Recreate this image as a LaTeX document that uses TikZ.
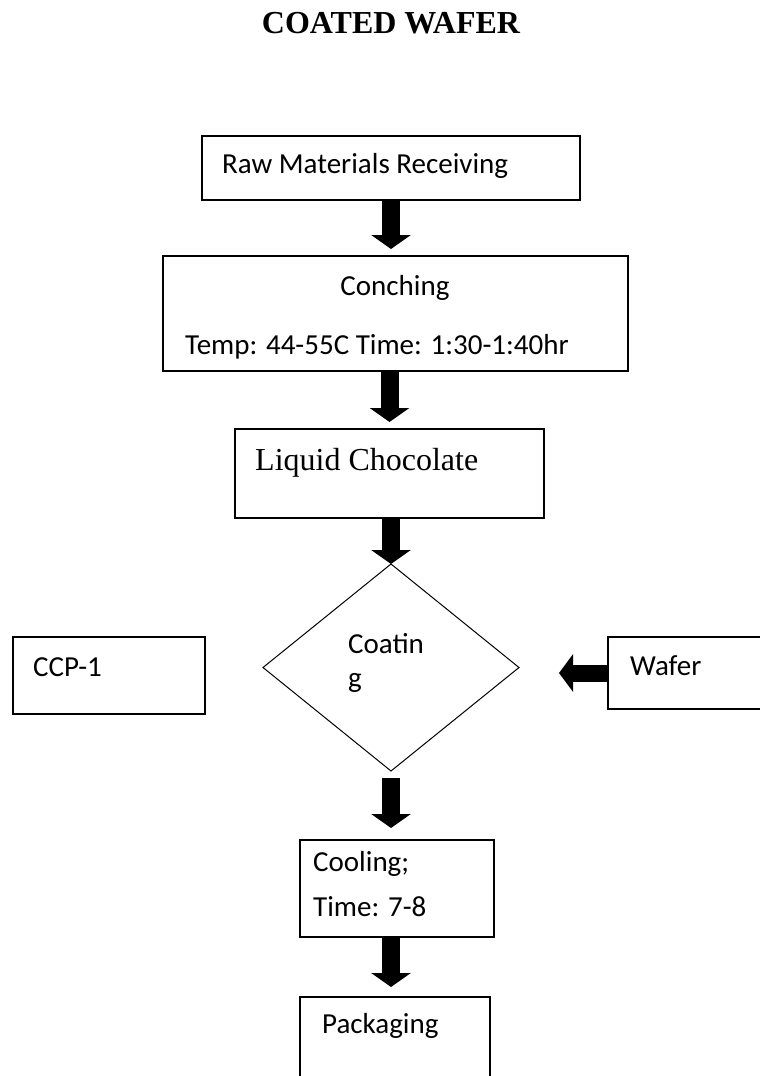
\documentclass[tikz,border=0pt]{standalone}
\usepackage{fontspec}
\setmainfont{Liberation Serif}
\newfontfamily\calibri{Carlito}
\usetikzlibrary{shapes.geometric,arrows.meta}

\begin{document}
\begin{tikzpicture}[x=1pt,y=-1pt,
  box/.style={draw,line width=1.3pt,inner sep=0pt,outer sep=0pt},
  txt/.style={inner sep=0pt,anchor=base west,font=\calibri\fontsize{29}{35}\selectfont},
  flowarrow/.style={line width=18pt,-{Triangle[width=39pt,length=14pt]}},
  sidearrow/.style={line width=17pt,-{Triangle[width=37pt,length=14pt]}}]

% page frame
\useasboundingbox (0,0) rectangle (760,1076);
\fill[white] (0,0) rectangle (760,1076);
\clip (0,0) rectangle (760,1076);

% heading
\node[anchor=base,inner sep=0pt,font=\bfseries\fontsize{32}{38}\selectfont] (title) at (391,33) {COATED WAFER};

% process boxes
\node[box,minimum width=378pt,minimum height=64pt] (raw) at (391,168) {};
\node[box,minimum width=465pt,minimum height=115pt] (conch) at (395.5,313.5) {};
\node[box,minimum width=309pt,minimum height=89pt] (liq) at (389.5,473.5) {};
\node[draw,diamond,line width=1pt,inner sep=0pt,outer sep=0pt,
      minimum width=256pt,minimum height=207pt] (coat) at (391,667.5) {};
\node[box,minimum width=192pt,minimum height=77pt] (ccp) at (109,675.5) {};
\node[box,minimum width=192pt,minimum height=72pt] (wafer) at (704,673) {};
\node[box,minimum width=194pt,minimum height=97pt] (cool) at (397,888.5) {};
\node[box,minimum width=190pt,minimum height=123pt] (pack) at (395,1058.5) {};

% box texts
\node[txt] (rawtxt) at (222,173) {Raw Materials Receiving};
\node[txt,anchor=base] (conchtxt) at (395,295) {Conching};
\node[txt] (conchpar) at (185,354) {Temp: 44-55C Time: 1:30-1:40hr};
\node[inner sep=0pt,anchor=base west,font=\fontsize{32}{38}\selectfont] (liqtxt) at (255,470) {Liquid Chocolate};
\node[txt] (coattxt) at (348,653) {Coatin};
\node[txt] (coattxtb) at (348,687) {g};
\node[txt] (ccptxt) at (33,676) {CCP-1};
\node[txt] (wafertxt) at (630,675) {Wafer};
\node[txt] (cooltxt) at (313,871) {Cooling;};
\node[txt] (cooltime) at (313,916) {Time: 7-8};
\node[txt] (packtxt) at (322,1033) {Packaging};

% block arrows
\draw[flowarrow,shorten >=7pt] (raw.south) -- (raw.south |- conch.north);
\draw[flowarrow,shorten >=7pt] (liq.north |- conch.south) -- (liq.north);
\draw[flowarrow] (coat.north |- liq.south) -- (coat.north);
\draw[flowarrow,shorten <=7pt,shorten >=12pt] (coat.south) -- (coat.south |- cool.north);
\draw[flowarrow,shorten >=10pt] (coat.south |- cool.south) -- (coat.south |- pack.north);
\draw[sidearrow,shorten >=40pt] (wafer.west) -- (wafer.west -| coat.east);
\end{tikzpicture}
\end{document}
